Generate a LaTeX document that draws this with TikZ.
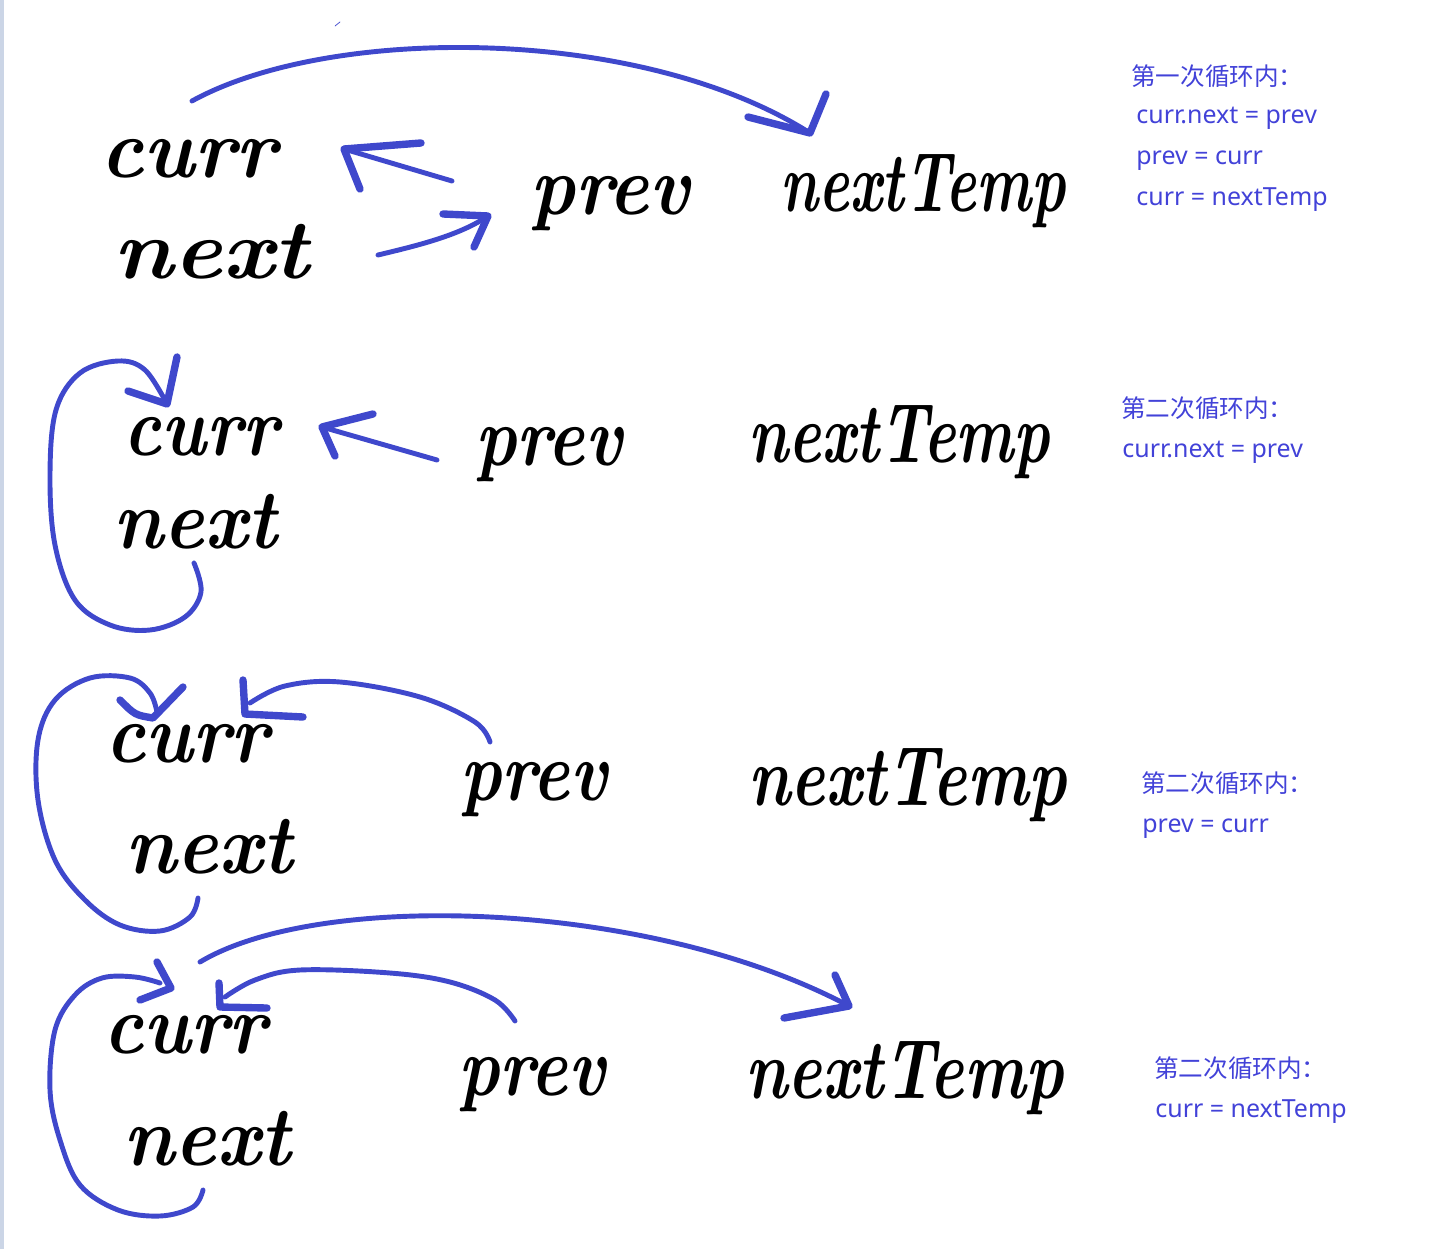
\documentclass[tikz,border=0pt]{standalone}
\usepackage{fontspec}
\usepackage{xcolor}
\usepackage{tikz}
\usetikzlibrary{arrows}
\newfontfamily\cjk{Noto Sans CJK SC}
\newfontfamily\codefont{Noto Sans}
\definecolor{penblue}{RGB}{63,72,204}
\definecolor{noteblue}{RGB}{66,66,216}
\definecolor{edgegray}{RGB}{203,213,230}
\tikzset{
  word/.style={font=\fontsize{48}{58}\selectfont\bfseries\itshape, inner sep=0pt, anchor=base west},
  note/.style={font=\cjk\fontsize{14}{17}\selectfont, text=noteblue, inner sep=0pt, anchor=base west},
  code/.style={note, font=\codefont\fontsize{14.2}{17}\selectfont},
  pen/.style={draw=penblue, line width=2.8pt, line cap=round, line join=round},
  penhead/.style={pen, line width=4.2pt}
}
\begin{document}
\begin{tikzpicture}[x=0.2mm, y=-0.2mm]
  \useasboundingbox (0,0) rectangle (1437,1249);
  \fill[edgegray] (0,0) rectangle (4,1249);

  % parameters
  \def\cs{0.9}    % squeeze of curr
  \def\ns{0.93}   % squeeze of next
  \def\ps{0.83}   % squeeze of prev

  %1. kör
  \node[word] (c1) at (100,178) {\scalebox{0.97}[1]{curr}};
  \node[word] (n1) at (113,278) {\scalebox{1.09}[1]{next}};
  \node[word] (p1) at (530,215) {\scalebox{0.9}[1]{prev}};
  \node[word] (t1) at (780,212) {\scalebox{0.69}[1]{nextTemp}};
  \coordinate (a1s) at (192,101);
  \coordinate (a1e) at (810,133);
  \coordinate (a2s) at (452,181);
  \coordinate (a2e) at (344,149);
  \coordinate (a3s) at (378,255);
  \coordinate (a3e) at (488,216);
  \draw[pen, line width=0.4pt] (335,26) -- (340,22);
  \draw[pen] (a1s) .. controls (330,25) and (640,25) .. (a1e);
  \draw[penhead] (a1e) ++(-62,-16) -- (a1e) -- ++(16,-39);
  \draw[pen] (a2s) -- (a2e);
  \draw[penhead] (a2e) ++(16,40) -- (a2e) -- ++(77,-6);
  \draw[pen] (a3s) .. controls (420,245) and (460,235) .. (a3e);
  \draw[penhead] (a3e) ++(-45,-2) -- (a3e) -- ++(-14,31);
  \node[note] (h1) at (1131,86) {第一次循环内：};
  \node[code] (l11) at (1136,124) {curr.next = prev};
  \node[code] (l12) at (1136,165) {prev = curr};
  \node[code] (l13) at (1136,206) {curr = nextTemp};

  %2. kör
  \node[word] (c2) at (123,455) {\scalebox{0.85}[1]{curr}};
  \node[word] (n2) at (113,548) {\scalebox{0.91}[1]{next}};
  \node[word] (p2) at (475,465) {\scalebox{\ps}[1]{prev}};
  \node[word] (t2) at (748,462) {\scalebox{0.73}[1]{nextTemp}};
  \coordinate (b1s) at (194,563);
  \coordinate (b1e) at (167,404);
  \coordinate (b2s) at (437,460);
  \coordinate (b2e) at (322,427);
  \draw[pen] plot[smooth, tension=0.6] coordinates {(b1s) (201,592) (185,617) (150,630) (110,625) (75,600) (55,545) (50,475) (56,410) (80,373) (118,361) (145,370) (b1e)};
  \draw[penhead] (b1e) ++(-39,-13) -- (b1e) -- ++(10,-47);
  \draw[pen] (b2s) -- (b2e);
  \draw[penhead] (b2e) ++(13,29) -- (b2e) -- ++(51,-13);
  \node[note] (h2) at (1121,417) {第二次循环内：};
  \node[code] (l21) at (1122,457) {curr.next = prev};

  %3. kör
  \node[word] (c3) at (105,762) {\scalebox{\cs}[1]{curr}};
  \node[word] (n3) at (125,873) {\scalebox{\ns}[1]{next}};
  \node[word] (p3) at (460,800) {\scalebox{\ps}[1]{prev}};
  \node[word] (t3) at (748,805) {\scalebox{0.77}[1]{nextTemp}};
  \coordinate (d1s) at (198,898);
  \coordinate (d1e) at (157,712);
  \coordinate (d2s) at (490,742);
  \coordinate (d2e) at (245,714);
  \draw[pen] plot[smooth, tension=0.6] coordinates {(d1s) (190,917) (160,931) (120,925) (85,900) (55,860) (38,800) (38,740) (55,700) (90,678) (130,678) (150,693) (d1e)};
  \draw[penhead] (120,700) .. controls (135,715) .. (153,718) -- (183,687);
  \draw[pen] plot[smooth, tension=0.6] coordinates {(d2s) (475,722) (420,697) (340,682) (285,686) (250,703)};
  \draw[penhead] (d2e) ++(-2,-34) -- (d2e) -- ++(58,3);
  \node[note] (h3) at (1141,792) {第二次循环内：};
  \node[code] (l31) at (1142,832) {prev = curr};

  %4. kör
  \node[word] (c4) at (103,1053) {\scalebox{\cs}[1]{curr}};
  \node[word] (n4) at (123,1165) {\scalebox{\ns}[1]{next}};
  \node[word] (p4) at (458,1095) {\scalebox{\ps}[1]{prev}};
  \node[word] (t4) at (745,1098) {\scalebox{0.77}[1]{nextTemp}};
  \coordinate (e1s) at (203,1190);
  \coordinate (e1e) at (171,988);
  \coordinate (e2s) at (515,1021);
  \coordinate (e2e) at (220,1007);
  \coordinate (e3s) at (200,962);
  \coordinate (e3e) at (849,1006);
  \draw[pen] plot[smooth, tension=0.6] coordinates {(e1s) (193,1207) (160,1216) (118,1210) (80,1185) (60,1140) (50,1090) (55,1030) (75,995) (102,978) (135,977) (160,983)};
  \draw[penhead] (e1e) ++(-14,-26) -- (e1e) -- ++(-31,12);
  \draw[pen] plot[smooth, tension=0.6] coordinates {(e2s) (495,1000) (450,982) (390,973) (300,970) (255,980) (225,997)};
  \draw[penhead] (e2e) ++(-1,-24) -- (e2e) -- ++(47,1);
  \draw[pen] (e3s) .. controls (320,890) and (650,900) .. (e3e);
  \draw[penhead] (e3e) ++(-65,12) -- (e3e) -- ++(-14,-31);
  \node[note] (h4) at (1154,1077) {第二次循环内：};
  \node[code] (l41) at (1155,1117) {curr = nextTemp};
\end{tikzpicture}
\end{document}
